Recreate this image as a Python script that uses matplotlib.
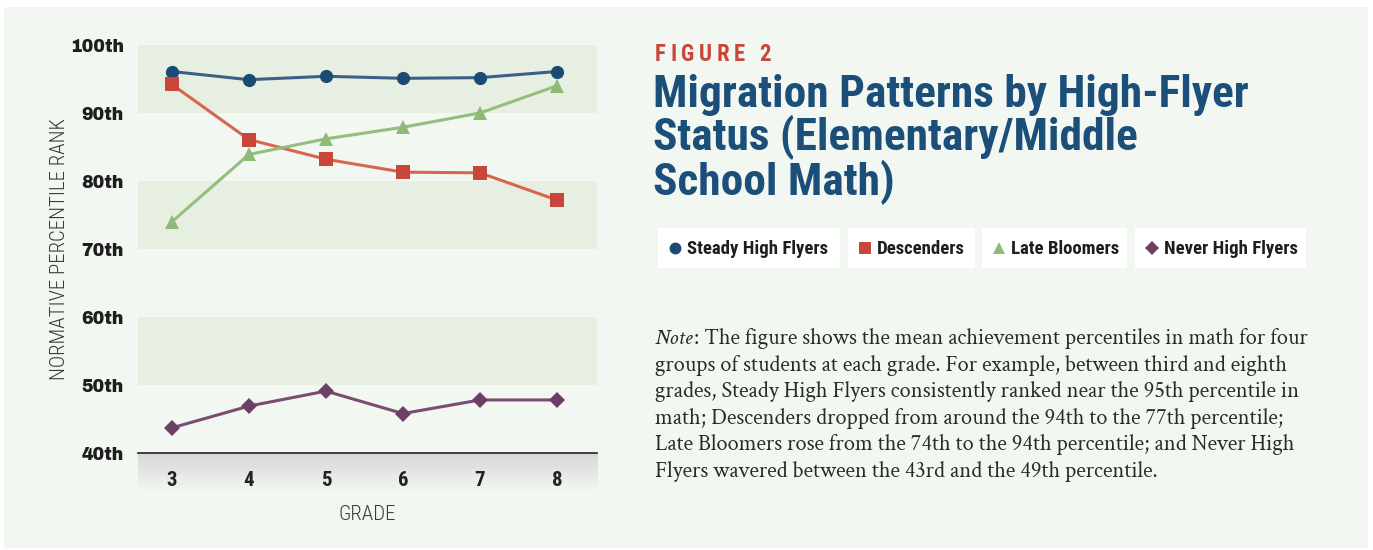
import matplotlib

matplotlib.use("Agg")
import matplotlib.pyplot as plt
import numpy as np
from matplotlib.patches import Rectangle

GRADES = [3, 4, 5, 6, 7, 8]
STEADY = [96.1, 94.9, 95.4, 95.1, 95.2, 96.1]
DESCENDERS = [94.2, 86.1, 83.2, 81.3, 81.2, 77.2]
LATE = [74.0, 83.9, 86.2, 87.9, 90.0, 94.0]
NEVER = [43.7, 46.9, 49.1, 45.8, 47.8, 47.8]

Y_TICKS = [40, 50, 60, 70, 80, 90, 100]
Y_LABELS = ["40th", "50th", "60th", "70th", "80th", "90th", "100th"]

SERIES = [
    ("Steady High Flyers", STEADY, "#1b4a73", "#3d5f85", "o", 9.5),
    ("Descenders", DESCENDERS, "#c9463b", "#d9654f", "s", 9.5),
    ("Late Bloomers", LATE, "#8fba78", "#94be7e", "^", 9.5),
    ("Never High Flyers", NEVER, "#6e3f66", "#7b4c72", "D", 8),
]

TITLE = "Migration Patterns by High-Flyer\nStatus (Elementary/Middle\nSchool Math)"
NOTE_LINES = [
    "The figure shows the mean achievement percentiles in math for four",
    "groups of students at each grade. For example, between third and eighth",
    "grades, Steady High Flyers consistently ranked near the 95th percentile in",
    "math; Descenders dropped from around the 94th to the 77th percentile;",
    "Late Bloomers rose from the 74th to the 94th percentile; and Never High",
    "Flyers wavered between the 43rd and the 49th percentile.",
]

W, H = 1373, 550
BG = "#f2f7f1"
BAND = "#e7efe3"
COND = ["Roboto Condensed", "DejaVu Sans"]
SERIF = ["Crimson Text", "DejaVu Serif"]
HEAVY = ["Archivo Black", "DejaVu Sans"]


def px(x, y):
    return x / W, 1 - y / H


fig = plt.figure(figsize=(W / 100, H / 100), dpi=100)
fig.patch.set_facecolor("white")
fig.patches.append(
    Rectangle((4 / W, 1 - 548 / H), 1364 / W, 541 / H, transform=fig.transFigure,
              facecolor=BG, edgecolor="none", zorder=-5)
)

# main axes: x 138..597 px, y 45 (100) .. 453 (40)
ax = fig.add_axes([138 / W, 1 - 453 / H, (597 - 138) / W, (453 - 45) / H])
ax.set_facecolor(BG)
ax.set_xlim(2.56, 8.52)
ax.set_ylim(40, 100)
for lo in (50, 70, 90):
    ax.axhspan(lo, lo + 10, color=BAND, zorder=0, lw=0)

for name, vals, mcol, lcol, mk, ms in SERIES:
    ax.plot(GRADES, vals, color=lcol, lw=2.2, zorder=2)
    ax.plot(GRADES, vals, ls="none", marker=mk, color=mcol, markersize=ms,
            markeredgewidth=0, zorder=3)

for s in ax.spines.values():
    s.set_visible(False)
ax.axhline(40, color="#222222", lw=1.2, zorder=4, clip_on=False)
ax.set_xticks([])
ax.set_yticks(Y_TICKS)
ax.set_yticklabels(Y_LABELS, family=HEAVY, fontsize=12.5, color="#1e1e1e")
ax.tick_params(axis="y", length=0, pad=10)
ax.set_ylabel("NORMATIVE PERCENTILE RANK", family=COND, fontweight=300,
              fontsize=15, color="#3a3a3a", labelpad=1)

# grey gradient band under the axis
gax = fig.add_axes([138 / W, 1 - 491 / H, (597 - 138) / W, 38 / H])
gax.set_zorder(-1)
grad = np.linspace(0, 1, 100).reshape(-1, 1)
top = np.array([0.84, 0.84, 0.84])
bot = np.array([0.95, 0.968, 0.945])
img = top + (bot - top) * grad[:, :, None]
gax.imshow(img, aspect="auto", extent=(2.56, 8.52, 1, 0), zorder=0)
gax.set_xlim(2.56, 8.52)
gax.set_ylim(1, 0)
gax.axis("off")
for g in GRADES:
    gax.text(g, 0.72, str(g), ha="center", va="center", family=COND,
             fontweight="bold", fontsize=15, color="#222222")
fig.text(*px(367, 514), "GRADE", ha="center", va="center", family=COND,
         fontweight=300, fontsize=15, color="#3a3a3a")

# "FIGURE 2" with letter spacing
fig.canvas.draw()
renderer = fig.canvas.get_renderer()
x = 655
for ch in "FIGURE 2":
    t = fig.text(x / W, 1 - 61 / H, ch, ha="left", va="baseline",
                 family=COND, fontweight="bold", fontsize=16.5, color="#c9473a")
    w = t.get_window_extent(renderer).width if ch != " " else 5
    x += w + 4.5

fig.text(*px(653, 74), TITLE, ha="left", va="top", family=COND,
         fontweight="bold", fontsize=32.7, color="#1b4f79", linespacing=0.98)

# legend boxes
boxes = [(658, 840), (848, 975), (982, 1127), (1135, 1306)]
for (x0, x1), (name, vals, mcol, lcol, mk, ms) in zip(boxes, SERIES):
    fig.patches.append(
        Rectangle(px(x0, 268), (x1 - x0) / W, 40 / H, transform=fig.transFigure,
                  facecolor="white", edgecolor="none", zorder=1)
    )
    fig.lines.append(
        plt.Line2D([(x0 + 17) / W], [1 - 248 / H], transform=fig.transFigure,
                   marker=mk, color=mcol, markersize=ms * 0.9, markeredgewidth=0,
                   zorder=2)
    )
    fig.text((x0 + 29) / W, 1 - 253.5 / H, name, ha="left", va="baseline",
             family=COND, fontweight="bold", fontsize=13.5, color="#1e1e1e",
             zorder=3)

# note
for i, line in enumerate(NOTE_LINES):
    y = 344 + i * 26.6
    if i == 0:
        t = fig.text(*px(655, y), "Note", ha="left", va="baseline", family=SERIF,
                     style="italic", fontsize=16.2, color="#2a2a2a")
        bb = t.get_window_extent(renderer)
        fig.text(bb.x1 / W, 1 - y / H, ": " + line, ha="left", va="baseline",
                 family=SERIF, fontsize=16.2, color="#2a2a2a")
    else:
        fig.text(*px(655, y), line, ha="left", va="baseline", family=SERIF,
                 fontsize=16.2, color="#2a2a2a")

fig.savefig("out.png", dpi=100, facecolor=fig.get_facecolor())
